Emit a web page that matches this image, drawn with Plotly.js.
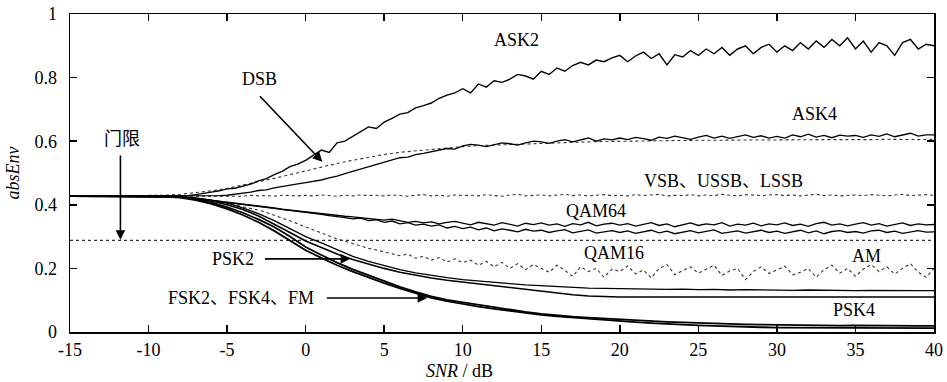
<!DOCTYPE html>
<html><head><meta charset="utf-8">
<script src="https://cdn.plot.ly/plotly-3.0.1.min.js"></script>
<style>html,body{margin:0;padding:0;background:#fff}#chart{width:947px;height:382px}
#chart svg text{font-family:'Liberation Serif','Noto Sans CJK SC',serif !important;}</style>
</head><body><div id="chart"></div>
<script>
// x grid (0.5 dB) for noisy curves
const snr = [
 -15,-14.5,-14,-13.5,-13,-12.5,-12,-11.5,-11,-10.5,
 -10,-9.5,-9,-8.5,-8,-7.5,-7,-6.5,-6,-5.5,
 -5,-4.5,-4,-3.5,-3,-2.5,-2,-1.5,-1,-0.5,
 0,0.5,1,1.5,2,2.5,3,3.5,4,4.5,
 5,5.5,6,6.5,7,7.5,8,8.5,9,9.5,
 10,10.5,11,11.5,12,12.5,13,13.5,14,14.5,
 15,15.5,16,16.5,17,17.5,18,18.5,19,19.5,
 20,20.5,21,21.5,22,22.5,23,23.5,24,24.5,
 25,25.5,26,26.5,27,27.5,28,28.5,29,29.5,
 30,30.5,31,31.5,32,32.5,33,33.5,34,34.5,
 35,35.5,36,36.5,37,37.5,38,38.5,39,39.5,
 40];
// x grid (1 dB) for smooth curves
const snrS = [-15,-10,-9,-8,-7,-6,-5,-4,-3,-2,-1,
 0,1,2,3,4,5,6,7,8,9,10,11,12,13,14,15,16,17,18,19,20,
 21,22,23,24,25,26,27,28,29,30,31,32,33,34,35,36,37,38,39,40];

const ask2 = [
 .427,.427,.427,.427,.427,.427,.427,.427,.427,.427,
 .427,.427,.427,.427,.427,.429,.432,.435,.44,.444,
 .45,.452,.458,.465,.475,.482,.495,.505,.52,.528,
 .54,.555,.572,.565,.595,.6,.615,.632,.645,.64,
 .66,.672,.685,.69,.705,.712,.72,.735,.745,.752,
 .765,.752,.78,.77,.79,.785,.795,.81,.805,.795,
 .82,.81,.83,.82,.838,.848,.84,.855,.85,.862,
 .87,.85,.868,.88,.86,.875,.84,.872,.865,.885,
 .87,.89,.875,.895,.87,.89,.9,.875,.895,.905,
 .88,.9,.885,.91,.89,.915,.895,.92,.9,.925,
 .89,.915,.88,.91,.9,.87,.91,.92,.89,.905,
 .9];
const ask4 = [
 .427,.427,.427,.427,.427,.427,.427,.427,.427,.427,
 .427,.427,.427,.427,.427,.427,.427,.428,.428,.429,
 .43,.433,.435,.44,.445,.447,.453,.458,.462,.466,
 .47,.473,.478,.485,.49,.498,.505,.513,.52,.527,
 .535,.54,.548,.55,.558,.562,.567,.572,.577,.575,
 .585,.59,.588,.583,.59,.595,.592,.588,.595,.6,
 .598,.593,.6,.605,.598,.603,.61,.6,.607,.604,
 .61,.605,.612,.608,.603,.613,.609,.616,.61,.606,
 .613,.618,.61,.616,.609,.615,.62,.612,.617,.61,
 .615,.61,.62,.614,.622,.613,.618,.611,.619,.616,
 .618,.612,.62,.615,.623,.614,.619,.625,.616,.62,
 .62];
const dsb = [.427,.428,.43,.433,.438,.444,.452,.462,.472,.483,.495,
 .507,.518,.53,.54,.55,.558,.565,.57,.575,.579,.583,.586,.588,.59,.592,.594,.595,.597,.598,.599,.6,
 .601,.601,.602,.602,.603,.603,.604,.603,.604,.604,.605,.604,.605,.605,.604,.605,.606,.605,.605,.606];
const vsb = [
 .428,.428,.428,.428,.428,.428,.428,.428,.428,.428,
 .428,.428,.428,.428,.428,.428,.428,.428,.428,.428,
 .428,.429,.427,.43,.428,.429,.427,.43,.429,.428,
 .43,.428,.431,.429,.427,.43,.428,.431,.429,.43,
 .428,.431,.429,.427,.43,.432,.428,.43,.427,.431,
 .429,.43,.428,.432,.429,.427,.431,.433,.428,.43,
 .431,.428,.43,.433,.429,.431,.428,.43,.432,.429,
 .43,.428,.432,.429,.431,.433,.428,.43,.429,.432,
 .428,.431,.429,.433,.43,.428,.432,.43,.429,.431,
 .432,.429,.431,.428,.43,.433,.429,.431,.428,.43,
 .431,.429,.432,.43,.428,.431,.433,.429,.43,.432,
 .43];
const qam64a = [
 .427,.427,.427,.427,.427,.427,.427,.427,.427,.427,
 .427,.427,.427,.426,.425,.423,.42,.418,.415,.412,
 .41,.406,.403,.4,.396,.393,.39,.386,.383,.38,
 .378,.375,.372,.37,.367,.364,.362,.36,.357,.355,
 .352,.355,.349,.345,.348,.343,.346,.34,.345,.348,
 .342,.337,.345,.34,.336,.344,.339,.333,.342,.338,
 .343,.336,.34,.332,.341,.337,.345,.334,.339,.342,
 .336,.341,.333,.339,.344,.335,.34,.331,.338,.343,
 .335,.34,.337,.344,.333,.339,.336,.342,.334,.34,
 .337,.343,.335,.339,.332,.341,.345,.336,.34,.334,
 .339,.344,.336,.341,.333,.338,.343,.335,.34,.337,
 .338];
const qam64b = [
 .427,.427,.427,.427,.427,.427,.427,.427,.427,.427,
 .427,.427,.427,.426,.425,.423,.42,.417,.414,.411,
 .408,.405,.402,.399,.395,.392,.389,.385,.382,.379,
 .376,.373,.37,.366,.364,.36,.356,.358,.35,.353,
 .345,.349,.34,.344,.336,.339,.333,.337,.327,.332,
 .325,.33,.321,.327,.318,.324,.32,.315,.323,.317,
 .32,.313,.318,.322,.312,.317,.321,.311,.316,.319,
 .313,.318,.31,.316,.32,.312,.317,.309,.315,.319,
 .312,.317,.321,.31,.315,.318,.311,.316,.32,.313,
 .317,.31,.315,.32,.312,.318,.309,.316,.319,.313,
 .316,.311,.318,.32,.313,.317,.31,.315,.319,.314,
 .315];
const am = [
 .427,.427,.427,.427,.427,.427,.427,.427,.427,.427,
 .427,.427,.427,.426,.425,.423,.42,.417,.413,.409,
 .405,.4,.395,.389,.383,.376,.368,.36,.35,.34,
 .33,.32,.31,.302,.293,.285,.277,.27,.263,.258,
 .252,.248,.24,.245,.232,.238,.226,.234,.22,.23,
 .218,.226,.21,.222,.205,.219,.2,.215,.196,.212,
 .2,.188,.21,.194,.175,.205,.19,.2,.172,.198,
 .19,.208,.183,.195,.17,.2,.212,.18,.193,.205,
 .185,.198,.21,.178,.192,.2,.165,.19,.205,.184,
 .195,.207,.18,.188,.2,.172,.196,.21,.185,.2,
 .175,.198,.212,.19,.205,.182,.2,.215,.188,.172,
 .2];
const psk2a = [.427,.427,.427,.426,.422,.415,.405,.39,.372,.35,.325,
 .3,.28,.258,.238,.222,.208,.196,.186,.178,.171,.165,.16,.156,.152,.148,.145,.142,.14,.138,.137,.136,
 .135,.136,.134,.135,.133,.134,.132,.133,.132,.133,.131,.132,.131,.132,.13,.131,.13,.131,.13,.13];
const psk2b = [.427,.427,.427,.426,.42,.412,.4,.385,.365,.34,.313,
 .286,.265,.245,.228,.213,.2,.188,.178,.17,.163,.157,.151,.145,.139,.133,.127,.122,.117,.113,.111,.11,
 .11,.11,.11,.11,.11,.11,.11,.11,.11,.11,.11,.11,.11,.11,.11,.11,.11,.11,.11,.11];
const psk4 = [.427,.427,.427,.425,.418,.407,.393,.375,.354,.33,.3,
 .267,.242,.218,.197,.178,.16,.142,.126,.112,.101,.093,.085,.077,.07,.063,.057,.052,.048,.045,.042,.039,
 .036,.034,.032,.03,.028,.026,.025,.024,.023,.022,.022,.021,.021,.02,.021,.02,.02,.02,.019,.019];
const fsk = [.427,.427,.426,.423,.415,.403,.387,.368,.345,.318,.288,
 .257,.233,.21,.19,.171,.154,.137,.121,.107,.097,.088,.08,.073,.066,.06,.054,.049,.045,.041,.037,.034,
 .031,.028,.025,.023,.021,.019,.017,.016,.015,.014,.014,.013,.013,.013,.012,.012,.012,.012,.012,.012];
const threshX = [-15, 40];
const threshY = [0.288, 0.288];

const xTicks = [-15,-10,-5,0,5,10,15,20,25,30,35,40];
const xTickText = ['-15','-10','-5','0','5','10','15','20','25','30','35','40'];
const yTicks = [0,0.2,0.4,0.6,0.8,1];
const yTickText = ['0','0.2','0.4','0.6','0.8','1'];

const FONT = 'Liberation Serif';
function tr(name, x, y, dash, w) {
  return {type:'scatter', mode:'lines', name:name, x:x, y:y,
    line:{color: dash==='dot' ? '#333' : '#000', width:w, dash:dash}};
}
const data = [
  tr('threshold', threshX, threshY, 'dot', 1.1),
  tr('VSB', snr, vsb, 'dot', 1.1),
  tr('DSB', snrS, dsb, 'dot', 1.1),
  tr('AM', snr, am, 'dot', 1.1),
  tr('ASK2', snr, ask2, 'solid', 1.4),
  tr('ASK4', snr, ask4, 'solid', 1.3),
  tr('QAM64a', snr, qam64a, 'solid', 1.3),
  tr('QAM64b', snr, qam64b, 'solid', 1.3),
  tr('PSK2a', snrS, psk2a, 'solid', 1.3),
  tr('PSK2b', snrS, psk2b, 'solid', 1.6),
  tr('PSK4', snrS, psk4, 'solid', 1.8),
  tr('FSK', snrS, fsk, 'solid', 1.8)
];

function lab(text, x, y) {
  return {text:text, x:x, y:y, xref:'x', yref:'y', showarrow:false,
    font:{family:FONT, size:18, color:'#000'}};
}
function arr(x, y, ax, ay) {
  return {text:'', x:x, y:y, ax:ax, ay:ay, xref:'x', yref:'y', axref:'x', ayref:'y',
    showarrow:true, arrowhead:2, arrowsize:1.2, arrowwidth:1.6, arrowcolor:'#000'};
}
const annotations = [
  lab('ASK2', 13.4, 0.917),
  lab('DSB', -2.95, 0.797),
  lab('ASK4', 32.4, 0.687),
  lab('VSB、USSB、LSSB', 26.6, 0.476),
  lab('QAM64', 18.5, 0.381),
  lab('QAM16', 19.6, 0.25),
  lab('AM', 35.7, 0.239),
  lab('PSK4', 34.9, 0.069),
  lab('PSK2', -4.6, 0.23),
  lab('FSK2、FSK4、FM', -4.1, 0.107),
  lab('门限', -11.7, 0.606),
  arr(1.06, 0.535, -3.0, 0.746),
  arr(-11.79, 0.29, -11.79, 0.56),
  arr(2.84, 0.23, -2.69, 0.23),
  arr(7.74, 0.107, 1.25, 0.107),
  {text:'<i>SNR</i> / dB', x:(459-70)/864, y:-(371-332)/318, xref:'paper', yref:'paper',
   xanchor:'center', yanchor:'middle', showarrow:false,
   font:{family:FONT, size:18, color:'#000'}}
];

const axisCommon = {showgrid:false, zeroline:false, showline:true, linecolor:'#000', linewidth:1.5,
  mirror:'ticks', ticks:'inside', ticklen:7, tickwidth:1.5, tickcolor:'#000',
  tickfont:{family:FONT, size:18, color:'#000'}};

const layout = {
  width:947, height:382, margin:{l:70, r:13, t:14, b:50},
  paper_bgcolor:'#fff', plot_bgcolor:'#fff', showlegend:false,
  font:{family:FONT, size:18, color:'#000'},
  xaxis: Object.assign({}, axisCommon, {range:[-15,40], tickvals:xTicks, ticktext:xTickText,
    ticklabelstandoff:1}),
  yaxis: Object.assign({}, axisCommon, {range:[0,1], tickvals:yTicks, ticktext:yTickText,
    ticklabelstandoff:8,
    title:{text:'<i>absEnv</i>', font:{family:FONT, size:18, color:'#000'}, standoff:10}}),
  annotations: annotations
};
Plotly.newPlot('chart', data, layout, {staticPlot:true});
</script></body></html>
